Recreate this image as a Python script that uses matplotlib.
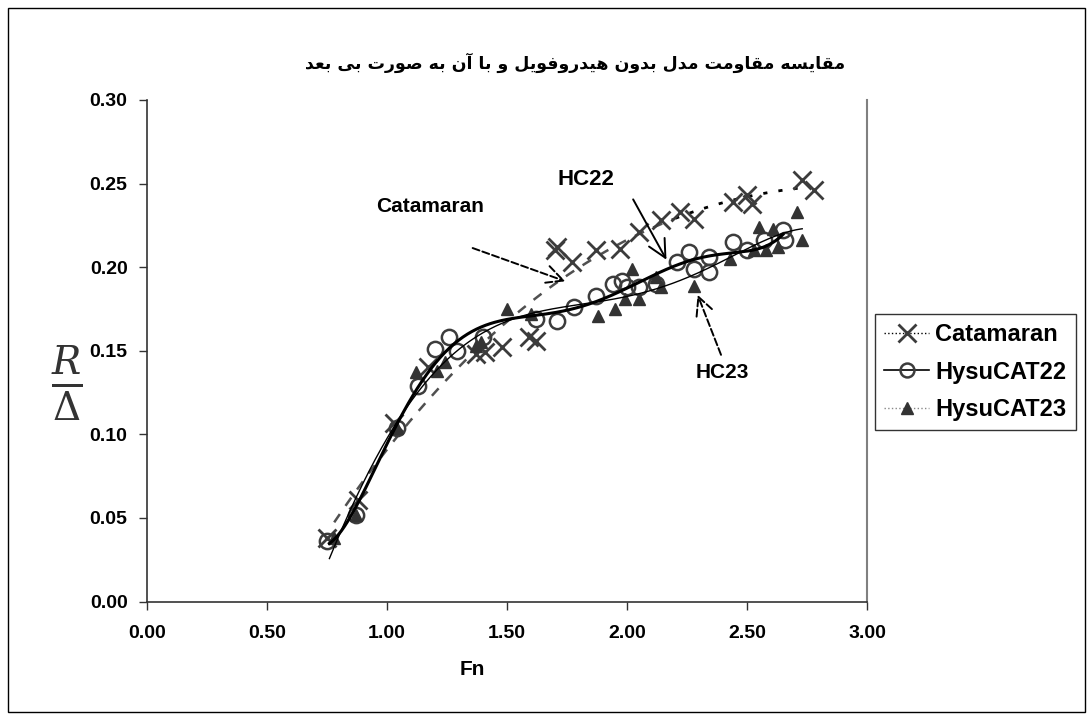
import numpy as np
import matplotlib
matplotlib.use("Agg")
import matplotlib.pyplot as plt
from matplotlib.patches import Rectangle
from matplotlib.legend_handler import HandlerLine2D

# ---- data ----
cat_fn = [0.75, 0.88, 1.03, 1.17, 1.37, 1.41, 1.48, 1.59, 1.62, 1.70, 1.71, 1.77,
          1.87, 1.97, 2.05, 2.14, 2.22, 2.28, 2.44, 2.50, 2.52, 2.73, 2.78]
cat_r = [0.038, 0.061, 0.107, 0.140, 0.148, 0.149, 0.152, 0.158, 0.156, 0.210, 0.212, 0.203,
         0.210, 0.211, 0.221, 0.228, 0.233, 0.229, 0.239, 0.243, 0.238, 0.252, 0.246]

hc22_fn = [0.75, 0.87, 1.04, 1.13, 1.20, 1.26, 1.29, 1.40, 1.62, 1.71, 1.78, 1.87, 1.94, 1.98,
           2.00, 2.05, 2.12, 2.21, 2.26, 2.28, 2.34, 2.34, 2.44, 2.50, 2.57, 2.65, 2.66]
hc22_r = [0.036, 0.052, 0.104, 0.129, 0.151, 0.158, 0.150, 0.158, 0.169, 0.168, 0.176, 0.183, 0.190, 0.192,
          0.188, 0.188, 0.190, 0.203, 0.209, 0.199, 0.206, 0.197, 0.215, 0.210, 0.216, 0.222, 0.216]

hc23_fn = [0.78, 0.87, 1.04, 1.12, 1.21, 1.24, 1.37, 1.39, 1.50, 1.60, 1.88, 1.95, 1.99, 2.02,
           2.05, 2.12, 2.14, 2.28, 2.43, 2.53, 2.55, 2.58, 2.61, 2.63, 2.71, 2.73]
hc23_r = [0.038, 0.052, 0.104, 0.137, 0.138, 0.143, 0.153, 0.155, 0.175, 0.172, 0.171, 0.175, 0.181, 0.199,
          0.181, 0.194, 0.188, 0.189, 0.205, 0.210, 0.224, 0.210, 0.223, 0.212, 0.233, 0.216]

series_names = ["Catamaran", "HysuCAT22", "HysuCAT23"]
title_fa = "مقایسه مقاومت مدل بدون هیدروفویل و با آن به صورت بی بعد"
xticks = [0.0, 0.5, 1.0, 1.5, 2.0, 2.5, 3.0]
yticks = [0.0, 0.05, 0.10, 0.15, 0.20, 0.25, 0.30]

# ---- minimal Persian shaping (matplotlib has no RTL / joining) ----
DUAL = {
    "ب": ("\uFE8F", "\uFE90", "\uFE91", "\uFE92"), "ت": ("\uFE95", "\uFE96", "\uFE97", "\uFE98"),
    "س": ("\uFEB1", "\uFEB2", "\uFEB3", "\uFEB4"), "ص": ("\uFEB9", "\uFEBA", "\uFEBB", "\uFEBC"),
    "ع": ("\uFEC9", "\uFECA", "\uFECB", "\uFECC"), "ف": ("\uFED1", "\uFED2", "\uFED3", "\uFED4"),
    "ق": ("\uFED5", "\uFED6", "\uFED7", "\uFED8"), "ل": ("\uFEDD", "\uFEDE", "\uFEDF", "\uFEE0"),
    "م": ("\uFEE1", "\uFEE2", "\uFEE3", "\uFEE4"), "ن": ("\uFEE5", "\uFEE6", "\uFEE7", "\uFEE8"),
    "ه": ("\uFEE9", "\uFEEA", "\uFEEB", "\uFEEC"), "ی": ("\uFBFC", "\uFBFD", "\uFBFE", "\uFBFF"),
}
RIGHT = {"ا": ("\uFE8D", "\uFE8E"), "آ": ("\uFE81", "\uFE82"), "د": ("\uFEA9", "\uFEAA"),
         "ر": ("\uFEAD", "\uFEAE"), "و": ("\uFEED", "\uFEEE")}


def shape_fa(s):
    out = []
    for i, ch in enumerate(s):
        prev = s[i - 1] if i > 0 else ""
        nxt = s[i + 1] if i + 1 < len(s) else ""
        joins_prev = prev in DUAL and (ch in DUAL or ch in RIGHT)
        if ch in DUAL:
            joins_next = nxt in DUAL or nxt in RIGHT
            iso, fin, ini, med = DUAL[ch]
            if joins_prev and joins_next:
                out.append(med)
            elif joins_prev:
                out.append(fin)
            elif joins_next:
                out.append(ini)
            else:
                out.append(iso)
        elif ch in RIGHT:
            out.append(RIGHT[ch][1] if joins_prev else RIGHT[ch][0])
        else:
            out.append(ch)
    return "".join(reversed(out))


class EndMarker(HandlerLine2D):
    # excel puts the legend marker near the right end of the sample line
    def get_xdata(self, legend, xdescent, ydescent, width, height, fontsize):
        xdata = np.array([-xdescent, -xdescent + width])
        return xdata, np.array([-xdescent + width * 0.83])


plt.rcParams["font.family"] = ["Liberation Sans", "DejaVu Sans"]
plt.rcParams["mathtext.fontset"] = "dejavuserif"

W, H = 1092, 720
fig = plt.figure(figsize=(W / 100, H / 100), dpi=100)
ax = fig.add_axes([147 / W, 1 - 601.5 / H, 720 / W, 501.5 / H])

# outer chart border
fig.patches.append(Rectangle((8 / W, 8 / H), 1077 / W, 704 / H, transform=fig.transFigure,
                             fill=False, edgecolor="black", linewidth=1))

mk = "#3c3c3c"
ax.plot(cat_fn, cat_r, linestyle="none", marker="x", markersize=13, markeredgewidth=2,
        color=mk, zorder=3)
ax.plot(hc22_fn, hc22_r, linestyle="none", marker="o", markersize=11, markeredgewidth=1.8,
        markerfacecolor="none", markeredgecolor=mk, zorder=4)
ax.plot(hc23_fn, hc23_r, linestyle="none", marker="^", markersize=8, color="#333333", zorder=5)

# polynomial trendlines, as in the original workbook
def trend(fn, r, deg, x0, x1):
    c = np.polyfit(fn, r, deg)
    xs = np.linspace(x0, x1, 300)
    return xs, np.polyval(c, xs)

xs, ys = trend(cat_fn, cat_r, 3, 0.78, 2.72)
lo = xs <= 2.2
ax.plot(xs[lo], ys[lo], color="#505050", linestyle=(0, (4, 4)), linewidth=1.8, zorder=2)
ax.plot(xs[~lo], ys[~lo], color="black", linestyle=(0, (1.5, 4)), linewidth=2, zorder=2)
xs, ys = trend(hc22_fn, hc22_r, 6, 0.76, 2.65)
ax.plot(xs, ys, color="black", linewidth=2.2, zorder=6)
xs, ys = trend(hc23_fn, hc23_r, 5, 0.76, 2.73)
ax.plot(xs, ys, color="black", linewidth=1.0, zorder=6)

# legend with excel-like sample lines
h_cat, = ax.plot([], [], color="black", linestyle=":", linewidth=1, marker="x",
                 markersize=13, markeredgewidth=2, markeredgecolor=mk)
h_22, = ax.plot([], [], color="black", linewidth=1.2, marker="o", markersize=10,
                markeredgewidth=1.8, markerfacecolor="none", markeredgecolor=mk)
h_23, = ax.plot([], [], color="#888888", linestyle=":", linewidth=1, marker="^",
                markersize=8, markerfacecolor="#333333", markeredgecolor="#333333")
leg = ax.legend([h_cat, h_22, h_23], series_names, loc="upper left",
                bbox_to_anchor=(875 / W, 1 - 314 / H), bbox_transform=fig.transFigure,
                borderaxespad=0, frameon=True, fancybox=False, handlelength=1.9,
                handletextpad=0.25, labelspacing=0.6, borderpad=0.4,
                prop={"weight": "bold", "size": 17},
                handler_map={h_cat: EndMarker(), h_22: EndMarker(), h_23: EndMarker()})
leg.get_frame().set_edgecolor("black")
leg.get_frame().set_linewidth(1)

# annotations
arrow_kw = dict(arrowstyle="->", color="black", lw=1.4, mutation_scale=32)
ax.annotate("", xy=(2.17, 0.203), xytext=(2.02, 0.242), arrowprops=arrow_kw)
ax.text(1.83, 0.2524, "HC22", fontsize=16, fontweight="bold", ha="center", va="center")
ax.annotate("", xy=(1.754, 0.191), xytext=(1.346, 0.212),
            arrowprops=dict(arrow_kw, linestyle="--"))
ax.text(1.18, 0.236, "Catamaran", fontsize=15, fontweight="bold", ha="center", va="center")
ax.annotate("", xy=(2.29, 0.185), xytext=(2.396, 0.146),
            arrowprops=dict(arrow_kw, linestyle="--"))
ax.text(2.396, 0.137, "HC23", fontsize=15, fontweight="bold", ha="center", va="center")

ax.set_xlim(0, 3)
ax.set_ylim(0, 0.30)
ax.set_xticks(xticks)
ax.set_yticks(yticks)
ax.set_xticklabels([f"{v:.2f}" for v in xticks], fontsize=14, fontweight="bold")
ax.set_yticklabels([f"{v:.2f}" for v in yticks], fontsize=14, fontweight="bold")
ax.tick_params(direction="out", length=6, width=1, color="#333333")
ax.tick_params(axis="x", pad=11)
ax.tick_params(axis="y", pad=8)
for s in ["left", "bottom"]:
    ax.spines[s].set_color("#333333")
    ax.spines[s].set_linewidth(1.2)
ax.spines["top"].set_visible(False)
ax.spines["right"].set_color("#808080")
ax.spines["right"].set_linewidth(1.5)

ax.set_xlabel("Fn", fontsize=15, fontweight="bold")
ax.xaxis.set_label_coords((472 - 147) / 720, (601.5 - 660) / 501.5)
fig.text(67 / W, 1 - 383 / H, r"$\frac{R}{\Delta}$", fontsize=40, color="#333333",
         ha="center", va="center")

fig.text(575 / W, 1 - 63 / H, shape_fa(title_fa), fontsize=12.5, fontweight="bold",
         family=["DejaVu Sans"], ha="center", va="center")

fig.savefig("out.png", dpi=100)
